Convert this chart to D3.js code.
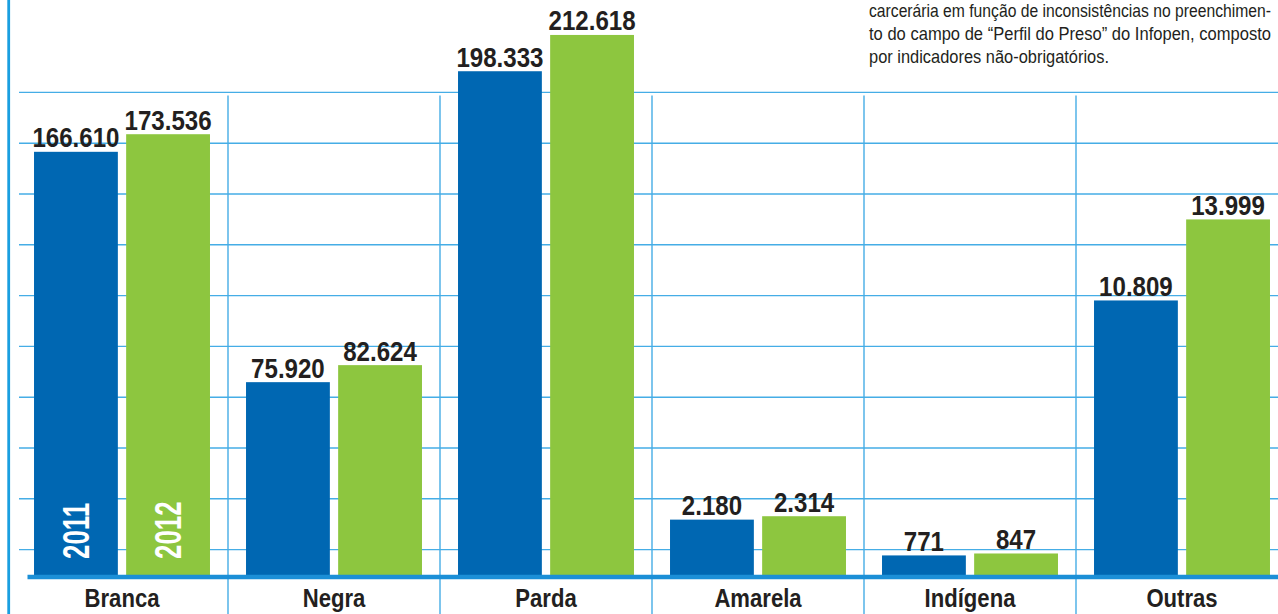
<!DOCTYPE html>
<html><head><meta charset="utf-8">
<script src="https://cdn.jsdelivr.net/npm/d3@7"></script>
<style>body{margin:0;background:#fff} svg{display:block}</style>
</head><body><svg id="c" width="1278" height="614"></svg>
<script>
const categories = ["Branca", "Negra", "Parda", "Amarela", "Indígena", "Outras"];
const years = ["2011", "2012"];
const values2011 = [166610, 75920, 198333, 2180, 771, 10809];
const values2012 = [173536, 82624, 212618, 2314, 847, 13999];
// the infographic draws the three small groups magnified 10x
const displayFactor = [1, 1, 1, 10, 10, 10];
const gridValues = [10000, 30000, 50000, 70000, 90000, 110000, 130000, 150000, 170000, 190000];
const noteLines = [
  "carcerária em função de inconsistências no preenchimen-",
  "to do campo de “Perfil do Preso” do Infopen, composto",
  "por indicadores não-obrigatórios."
];

const W = 1278, H = 614;
const FONT = "'Liberation Sans',Arial,sans-serif";
const BLUE = "#0067b2", GREEN = "#8dc63f", GRID = "#45ade6", BASE = "#1b8fd7", INK = "#231f20";

// squeeze glyphs horizontally to mimic the condensed typeface of the original
function condense(sel, factor) {
  sel.each(function() {
    const L = this.getComputedTextLength();
    d3.select(this).attr("textLength", L * factor).attr("lengthAdjust", "spacingAndGlyphs");
  });
}

const svg = d3.select("#c");
svg.append("rect").attr("width", W).attr("height", H).attr("fill", "#fff");

const data = categories.map((c, i) => ({
  cat: c, f: displayFactor[i],
  vals: [{year: years[0], v: values2011[i]}, {year: years[1], v: values2012[i]}]
}));

const x = d3.scaleBand().domain(categories).range([16, 1288]).paddingInner(0.17).paddingOuter(0.085);
const x1 = d3.scaleBand().domain(years).range([0, x.bandwidth()]).paddingInner(0.09);
const y = d3.scaleLinear().domain([0, 200000]).range([575, 67]);
const color = d3.scaleOrdinal().domain(years).range([BLUE, GREEN]);
const fmt = d3.formatLocale({decimal: ",", thousands: ".", grouping: [3], currency: ["R$", ""]}).format(",d");

// left border
svg.append("line").attr("x1", 8.7).attr("x2", 8.7).attr("y1", 0).attr("y2", H)
  .attr("stroke", "#1a9fe0").attr("stroke-width", 2.8);

// horizontal grid
svg.append("g").selectAll("line").data(gridValues).join("line")
  .attr("x1", 19).attr("x2", W)
  .attr("y1", d => y(d)).attr("y2", d => y(d))
  .attr("stroke", GRID).attr("stroke-width", 1.4);

// vertical dividers between groups
const gap = x.step() - x.bandwidth();
svg.append("g").selectAll("line").data(categories.slice(1)).join("line")
  .attr("x1", d => x(d) - gap / 2).attr("x2", d => x(d) - gap / 2)
  .attr("y1", y(gridValues[gridValues.length - 1]) + 3).attr("y2", H)
  .attr("stroke", GRID).attr("stroke-width", 1.4);

// note text (top right)
const note = svg.append("g").attr("font-family", FONT).attr("font-size", 15.5).attr("fill", INK);
const noteWidths = [402, 402, 240];
note.selectAll("text").data(noteLines).join("text")
  .attr("transform", (d, i) => `translate(869,${17 + i * 23}) scale(1,1.15)`)
  .attr("textLength", (d, i) => noteWidths[i]).attr("lengthAdjust", "spacingAndGlyphs")
  .text(d => d);

// bars
const groups = svg.append("g").selectAll("g").data(data).join("g")
  .attr("transform", d => `translate(${x(d.cat)},0)`);

groups.selectAll("rect").data(d => d.vals.map(v => ({...v, f: d.f}))).join("rect")
  .attr("x", d => x1(d.year)).attr("width", x1.bandwidth())
  .attr("y", d => y(d.v * d.f)).attr("height", d => y(0) - y(d.v * d.f))
  .attr("fill", d => color(d.year));

// value labels
groups.selectAll("text.val").data(d => d.vals.map(v => ({...v, f: d.f}))).join("text")
  .attr("class", "val")
  .attr("x", d => x1(d.year) + x1.bandwidth() / 2)
  .attr("y", d => y(d.v * d.f) - 4.5)
  .attr("text-anchor", "middle")
  .attr("font-family", FONT).attr("font-weight", "bold").attr("font-size", 28)
  .attr("fill", INK)
  .text(d => fmt(d.v))
  .call(condense, 0.86);

// year labels inside first group's bars
const g0 = groups.filter((d, i) => i === 0);
g0.selectAll("text.yr").data(years).join("text")
  .attr("class", "yr")
  .attr("transform", d => `translate(${x1(d) + x1.bandwidth() / 2 + 13},${y(0) - 16}) rotate(-90)`)
  .attr("font-family", FONT).attr("font-weight", "bold").attr("font-size", 36)
  .attr("fill", "#fff")
  .text(d => d)
  .call(condense, 0.72);

// baseline
svg.append("line").attr("x1", 27.5).attr("x2", W).attr("y1", y(0) + 2).attr("y2", y(0) + 2)
  .attr("stroke", BASE).attr("stroke-width", 4.6);

// category labels
svg.append("g").selectAll("text").data(categories).join("text")
  .attr("x", d => x(d) + x.bandwidth() / 2).attr("y", 607)
  .attr("text-anchor", "middle")
  .attr("font-family", FONT).attr("font-weight", "bold").attr("font-size", 26)
  .attr("fill", INK)
  .text(d => d)
  .call(condense, 0.85);
</script>
</body></html>
